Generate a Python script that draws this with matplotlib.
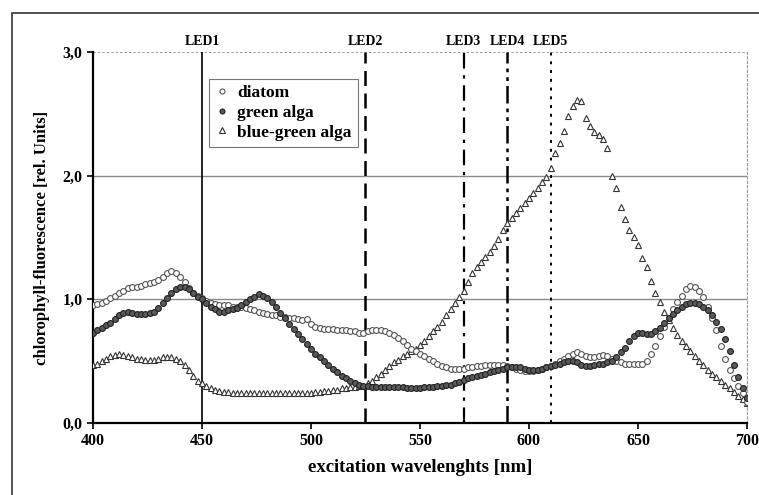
"""
Chlorophyll fluorescence excitation spectra with LED positions
"""
import matplotlib
matplotlib.use('Agg')
import matplotlib.pyplot as plt
from matplotlib.patches import Rectangle
from matplotlib.ticker import FuncFormatter
import numpy as np

# wavelength grid, 2 nm steps
wavelengths = np.arange(400, 701, 2)

diatom = [
    0.95, 0.96, 0.97, 0.99, 1.01, 1.03, 1.05, 1.07, 1.09, 1.10,
    1.10, 1.11, 1.12, 1.13, 1.14, 1.16, 1.18, 1.21, 1.23, 1.21,
    1.18, 1.14, 1.09, 1.05, 1.03, 1.01, 0.99, 0.97, 0.96, 0.95,
    0.95, 0.95, 0.94, 0.94, 0.94, 0.93, 0.92, 0.91, 0.90, 0.89,
    0.88, 0.87, 0.87, 0.86, 0.86, 0.85, 0.85, 0.84, 0.83, 0.84,
    0.80, 0.78, 0.77, 0.76, 0.76, 0.76, 0.75, 0.75, 0.75, 0.74,
    0.74, 0.73, 0.73, 0.74, 0.75, 0.75, 0.75, 0.74, 0.73, 0.71,
    0.69, 0.66, 0.63, 0.60, 0.58, 0.56, 0.54, 0.52, 0.50, 0.48,
    0.46, 0.45, 0.44, 0.44, 0.44, 0.44, 0.45, 0.45, 0.46, 0.46,
    0.47, 0.47, 0.47, 0.47, 0.47, 0.46, 0.45, 0.44, 0.43, 0.42,
    0.42, 0.42, 0.43, 0.44, 0.45, 0.46, 0.48, 0.50, 0.52, 0.54,
    0.56, 0.57, 0.56, 0.54, 0.53, 0.53, 0.54, 0.55, 0.54, 0.52,
    0.50, 0.49, 0.48, 0.48, 0.48, 0.48, 0.48, 0.50, 0.56, 0.62,
    0.70, 0.78, 0.85, 0.92, 0.98, 1.03, 1.08, 1.11, 1.10, 1.07,
    1.02, 0.94, 0.85, 0.75, 0.62, 0.52, 0.43, 0.36, 0.30, 0.24,
    0.17,
]

green_alga = [
    0.73, 0.75, 0.77, 0.79, 0.81, 0.84, 0.87, 0.89, 0.90, 0.89,
    0.88, 0.88, 0.88, 0.89, 0.90, 0.93, 0.97, 1.01, 1.05, 1.08,
    1.10, 1.10, 1.08, 1.05, 1.02, 1.00, 0.97, 0.94, 0.92, 0.90,
    0.90, 0.91, 0.92, 0.93, 0.95, 0.98, 1.00, 1.02, 1.04, 1.03,
    1.01, 0.98, 0.94, 0.89, 0.85, 0.80, 0.76, 0.72, 0.68, 0.64,
    0.60, 0.56, 0.53, 0.50, 0.47, 0.44, 0.41, 0.38, 0.36, 0.34,
    0.32, 0.31, 0.30, 0.30, 0.29, 0.29, 0.29, 0.29, 0.29, 0.29,
    0.29, 0.29, 0.28, 0.28, 0.28, 0.28, 0.29, 0.29, 0.29, 0.30,
    0.30, 0.31, 0.31, 0.32, 0.33, 0.35, 0.36, 0.37, 0.38, 0.39,
    0.40, 0.41, 0.42, 0.43, 0.44, 0.45, 0.45, 0.45, 0.45, 0.44,
    0.43, 0.43, 0.43, 0.44, 0.45, 0.46, 0.47, 0.48, 0.49, 0.50,
    0.50, 0.49, 0.47, 0.46, 0.46, 0.47, 0.48, 0.48, 0.49, 0.50,
    0.53, 0.57, 0.61, 0.66, 0.70, 0.73, 0.73, 0.72, 0.72, 0.74,
    0.77, 0.81, 0.85, 0.88, 0.91, 0.94, 0.96, 0.97, 0.97, 0.96,
    0.94, 0.91, 0.87, 0.82, 0.76, 0.68, 0.58, 0.47, 0.37, 0.28,
    0.20,
]

blue_green_alga = [
    0.47, 0.48, 0.50, 0.52, 0.54, 0.55, 0.56, 0.55, 0.54, 0.53,
    0.52, 0.52, 0.51, 0.51, 0.51, 0.52, 0.53, 0.53, 0.53, 0.52,
    0.50, 0.47, 0.43, 0.38, 0.34, 0.32, 0.30, 0.28, 0.27, 0.26,
    0.25, 0.25, 0.24, 0.24, 0.24, 0.24, 0.24, 0.24, 0.24, 0.24,
    0.24, 0.24, 0.24, 0.24, 0.24, 0.24, 0.24, 0.24, 0.24, 0.24,
    0.24, 0.25, 0.25, 0.26, 0.26, 0.27, 0.27, 0.28, 0.28, 0.29,
    0.29, 0.30, 0.30, 0.32, 0.34, 0.37, 0.40, 0.43, 0.46, 0.49,
    0.51, 0.54, 0.56, 0.58, 0.60, 0.63, 0.66, 0.70, 0.74, 0.78,
    0.82, 0.87, 0.92, 0.97, 1.02, 1.07, 1.14, 1.21, 1.26, 1.30,
    1.34, 1.38, 1.43, 1.49, 1.56, 1.62, 1.66, 1.70, 1.74, 1.78,
    1.82, 1.86, 1.90, 1.95, 1.99, 2.06, 2.18, 2.26, 2.36, 2.48,
    2.56, 2.61, 2.60, 2.47, 2.40, 2.35, 2.33, 2.30, 2.22, 2.00,
    1.90, 1.75, 1.65, 1.56, 1.50, 1.44, 1.33, 1.26, 1.15, 1.05,
    0.98, 0.90, 0.83, 0.77, 0.71, 0.66, 0.62, 0.58, 0.54, 0.50,
    0.47, 0.43, 0.40, 0.37, 0.34, 0.31, 0.28, 0.25, 0.22, 0.19,
    0.16,
]

# LED positions and their line styles
led_names = ['LED1', 'LED2', 'LED3', 'LED4', 'LED5']
led_positions = [450, 525, 570, 590, 610]
led_styles = [
    '-',
    (0, (6, 3)),
    (0, (7, 3, 1.5, 3)),
    (0, (7, 2, 1.5, 2, 1.5, 2)),
    (0, (1.5, 3)),
]
led_widths = [1.2, 1.8, 1.6, 1.8, 1.4]

plt.rcParams['font.family'] = ['Liberation Serif', 'DejaVu Serif']
plt.rcParams['font.weight'] = 'bold'

fig = plt.figure(figsize=(7.59, 4.95), dpi=100)
ax = fig.add_axes([0.1225, 0.1455, 0.8617, 0.7495])

# outer frame of the chart (right and bottom edges fall outside the picture)
fig.patches.append(Rectangle((12 / 759, -0.05), 1.0, 1.05 - 13 / 495,
                             transform=fig.transFigure, fill=False,
                             edgecolor='#333333', linewidth=1.2))

# grid lines
for yv in [1.0, 2.0]:
    ax.axhline(yv, color='#8a8a8a', linewidth=1.0, zorder=1)
ax.axhline(3.0, color='#9a9a9a', linewidth=0.8, linestyle=(0, (2, 2)), zorder=1)

# LED lines and labels
for name, pos, ls, lw in zip(led_names, led_positions, led_styles, led_widths):
    ax.plot([pos, pos], [0, 3.0], color='black', linestyle=ls, linewidth=lw, zorder=2)
    ax.text(pos, 3.03, name, ha='center', va='bottom', fontsize=10,
            fontweight='bold')

# spectra
ax.plot(wavelengths, diatom, linestyle='none', marker='o', markersize=4.2,
        markerfacecolor='white', markeredgecolor='#555555', markeredgewidth=0.8,
        label='diatom', zorder=4)
ax.plot(wavelengths, green_alga, linestyle='none', marker='o', markersize=4.2,
        markerfacecolor='#5a5a5a', markeredgecolor='#222222', markeredgewidth=0.8,
        label='green alga', zorder=5)
ax.plot(wavelengths, blue_green_alga, linestyle='none', marker='^', markersize=4.6,
        markerfacecolor='white', markeredgecolor='#333333', markeredgewidth=0.8,
        label='blue-green alga', zorder=3)

ax.set_xlim(400, 700)
ax.set_ylim(0, 3.0)
ax.set_xticks(np.arange(400, 701, 50))
ax.set_yticks([0, 1, 2, 3])
ax.yaxis.set_major_formatter(FuncFormatter(lambda v, p: f'{v:.1f}'.replace('.', ',')))
ax.tick_params(axis='both', labelsize=11.5, direction='out', length=4, width=1.2)
for lab in ax.get_xticklabels() + ax.get_yticklabels():
    lab.set_fontweight('bold')

ax.spines['left'].set_linewidth(1.6)
ax.spines['bottom'].set_linewidth(1.6)
ax.spines['top'].set_visible(False)
ax.spines['right'].set_color('#9a9a9a')
ax.spines['right'].set_linestyle((0, (2, 2)))
ax.spines['right'].set_linewidth(0.8)

ax.set_xlabel('excitation wavelenghts [nm]', fontsize=13.5, fontweight='bold', labelpad=7)
ax.set_ylabel('chlorophyll-fluorescence [rel. Units]', fontsize=12, fontweight='bold',
              labelpad=9)

leg = ax.legend(loc='upper left', bbox_to_anchor=(0.177, 0.927), borderaxespad=0,
                fontsize=12.5, frameon=True, fancybox=False, edgecolor='#777777',
                framealpha=1, handlelength=0.8, handletextpad=0.5, borderpad=0.35,
                labelspacing=0.2, markerscale=0.85)
leg.get_frame().set_linewidth(0.8)

fig.savefig('out.png', dpi=100)
plt.close(fig)
